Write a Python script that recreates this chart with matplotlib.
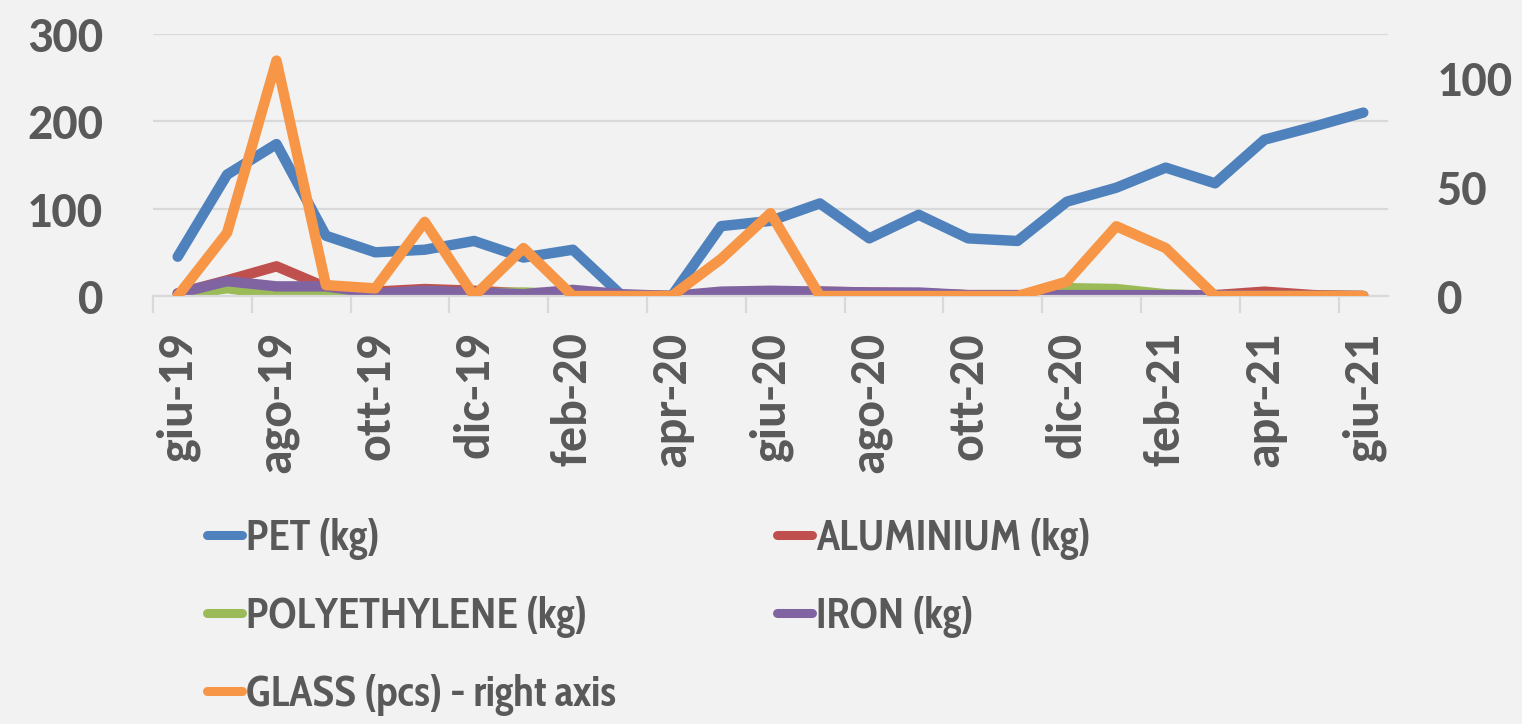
import numpy as np
import matplotlib
matplotlib.use("Agg")
import matplotlib.pyplot as plt
from matplotlib import font_manager as fm
from matplotlib.ticker import FixedLocator, NullFormatter

# months giu-19 .. giu-21
months = ["giu-19", "lug-19", "ago-19", "set-19", "ott-19", "nov-19", "dic-19",
          "gen-20", "feb-20", "mar-20", "apr-20", "mag-20", "giu-20", "lug-20",
          "ago-20", "set-20", "ott-20", "nov-20", "dic-20", "gen-21", "feb-21",
          "mar-21", "apr-21", "mag-21", "giu-21"]

pet = [45, 139, 174, 69, 50, 53, 63, 44, 53, 0, 0, 80, 86, 106, 66, 93, 66, 63,
       108, 124, 147, 129, 179, 194, 210]
aluminium = [3, 18, 34, 10, 5, 8, 6, 3, 4, 1, 0, 3, 4, 5, 4, 3, 1, 1, 0, 0, 0, 1, 5, 1, 0]
polyethylene = [0, 9, 1, 5, 0, 1, 3, 4, 2, 1, 0, 0, 1, 0, 0, 0, 0, 0, 9, 8, 2, 0, 0, 0, 0]
iron = [3, 17, 11, 11, 3, 6, 4, 2, 7, 2, 0, 5, 6, 5, 4, 4, 1, 1, 1, 1, 1, 1, 0, 0, 0]
glass = [0, 29, 108, 5, 3.5, 34, 0, 22, 0, 0, 0, 17, 38, 0, 0, 0, 0, 0, 6.6, 32, 22,
         0, 0, 0, 0]

left_ticks = [0, 100, 200, 300]
right_ticks = [0, 50, 100]

txt = "#595959"
grid = "#d9d9d9"
bg = "#f2f2f2"

# Calibri look-alike if there is one
installed = set(f.name for f in fm.fontManager.ttflist)
if "Carlito" in installed:
    fam, fs = "Carlito", 36
else:
    fam, fs = "Lato", 31
plt.rcParams["font.family"] = [fam, "DejaVu Sans"]
plt.rcParams["font.weight"] = "bold"
# legend text in the reference is squeezed sideways
leg_fam = "Cabin Condensed" if "Cabin Condensed" in installed else fam
leg_fs = 31

fig = plt.figure(figsize=(15.22, 7.24), dpi=100, facecolor=bg)
ax = fig.add_axes([153 / 1522, 1 - 296 / 724, (1388 - 153) / 1522, (296 - 34) / 724])
ax.set_facecolor(bg)
x = np.arange(len(months))

lw = 7.5
kw = dict(lw=lw, solid_capstyle="round", solid_joinstyle="round")
l_pet, = ax.plot(x, pet, color="#4f81bd", label="PET (kg)", **kw)
l_alu, = ax.plot(x, aluminium, color="#c0504d", label="ALUMINIUM (kg)", **kw)
l_pol, = ax.plot(x, polyethylene, color="#9bbb59", label="POLYETHYLENE (kg)", **kw)
l_iron, = ax.plot(x, iron, color="#8064a2", label="IRON (kg)", **kw)

ax.set_xlim(-0.5, len(months) - 0.5)
ax.set_ylim(0, 300)
ax.set_yticks(left_ticks)
ax.yaxis.grid(True, color=grid, lw=1.6)
ax.set_axisbelow(True)
ax.tick_params(axis="y", length=0, pad=50 * 0.72, labelsize=fs, labelcolor=txt)

# tick marks on category boundaries, labels centred on every 2nd month
ax.xaxis.set_major_locator(FixedLocator(np.arange(-0.5, len(months), 2)))
ax.xaxis.set_major_formatter(NullFormatter())
ax.xaxis.set_minor_locator(FixedLocator(x[::2]))
ax.set_xticklabels(months[::2], minor=True, rotation=90)
ax.tick_params(axis="x", which="major", length=12, width=1.6, color=grid, direction="out")
ax.tick_params(axis="x", which="minor", length=0, pad=26, labelsize=fs, labelcolor=txt)
for s in ["top", "right", "left"]:
    ax.spines[s].set_visible(False)
ax.spines["bottom"].set_color(grid)
ax.spines["bottom"].set_linewidth(1.6)

ax2 = ax.twinx()
l_glass, = ax2.plot(x, glass, color="#f79646", label="GLASS (pcs) - right axis", **kw)
ax2.set_ylim(0, 120.2)
ax2.set_yticks(right_ticks)
ax2.tick_params(axis="y", length=0, pad=49 * 0.72, labelsize=fs, labelcolor=txt)
for s in ax2.spines.values():
    s.set_visible(False)

# two legend columns placed separately
prop = dict(family=[leg_fam, "DejaVu Sans"], weight="bold", size=leg_fs)
for hs, xl in [([l_pet, l_pol, l_glass], 207), ([l_alu, l_iron], 777)]:
    leg = fig.legend(hs, [h.get_label() for h in hs], loc="upper left",
                     bbox_to_anchor=(xl / 1522, 1 - 518 / 724), prop=prop,
                     frameon=False, handlelength=0.82, handletextpad=0.08,
                     labelspacing=0.84, borderaxespad=0, borderpad=0)
    for t in leg.get_texts():
        t.set_color(txt)
    for lh in leg.get_lines():
        lh.set_linewidth(6.5)

fig.savefig("out.png", dpi=100, facecolor=bg)
